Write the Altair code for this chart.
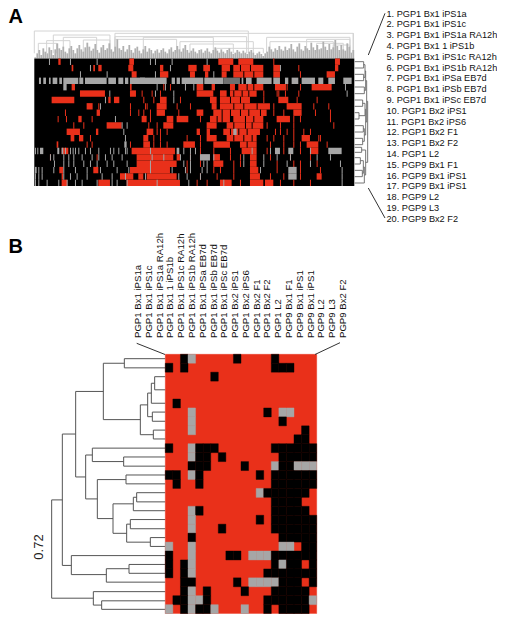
import altair as alt
import pandas as pd

W, H = 489, 606
RED, GREY, BLACK = "#e9301a", "#a6a6a6", "#000000"
FONT = "Liberation Sans"

SAMPLES = ["PGP1 Bx1 iPS1a", "PGP1 Bx1 iPS1c", "PGP1 Bx1 iPS1a RA12h", "PGP1 Bx1 1 iPS1b",
           "PGP1 Bx1 iPS1c RA12h", "PGP1 Bx1 iPS1b RA12h", "PGP1 Bx1 iPSa EB7d", "PGP1 Bx1 iPSb EB7d",
           "PGP1 Bx1 iPSc EB7d", "PGP1 Bx2 iPS1", "PGP1 Bx2 iPS6", "PGP1 Bx2 F1", "PGP1 Bx2 F2",
           "PGP1 L2", "PGP9 Bx1 F1", "PGP9 Bx1 iPS1", "PGP9 Bx1 iPS1", "PGP9 L2", "PGP9 L3", "PGP9 Bx2 F2"]

# Panel B: presence calls, one string per probe, one character per sample
B_ROWS = [
    "RRKGRRRRRKRRRRKRRRRR",
    "KRKRRRRRRRRRRRKKKRRR",
    "RRRRRRKRRRRRRRRRRRRR",
    "RRRRRRRRRRRRRRRRRRRR",
    "RRRRRRRRRRRRRRRRRRRR",
    "RKRRRRRRRRRRRRRRRRRR",
    "RRRGRRRRRRRRRKRGGRRR",
    "RRRGRRRRRRRRRRRKRRRR",
    "RRRGRRRRRRRRRRRRRRKR",
    "RRRRRRRRRRRRRRRRRKKR",
    "KRRGKKKRRRRRRRKKKKKK",
    "RRRGKKRKRRRRRRRKKKKK",
    "RRRKKKRRRRKRRRGKKGGG",
    "KKRGKRRRRRRRKRKKKKKK",
    "RKRRKRRRRRRRRRKKKKKK",
    "RRRRRRRRRRRRGKKKKKKR",
    "RRRRRRRRRRRRRRKKKKRR",
    "RRRGKRRRRRRRRRKKKKKR",
    "RRRGRRRRRRRRKRKKKKKK",
    "RRRGRRRKRRRRRRKKKKKK",
    "RRRKRRRRRRRRRRRKKKKK",
    "GRRGRRRRRRRRRRRGGRKK",
    "KRRGRRRRKKRGGGKKKKKK",
    "KRKGRRRRRRRRRRKGKKRK",
    "KRKGRRRRRRRRRKKKKKKK",
    "RRKKRRRRRKRGGGGKKKRK",
    "RRKGRKRRRRKRRRKKKKKR",
    "RKKGGKRRRRRRRKKKKKKG",
    "GRKGKKGRRRGRRKRKKKKR",
]

# Panel B tree: height, top, bottom, top-child height, bottom-child height
B_TREE = [
    (313, 57, 85, 436, 436), (404, 112, 152, 436, 436), (394, 132, 193, 404, 436), (397, 220, 248, 436, 436),
    (383, 162, 234, 394, 397), (400, 275, 302, 436, 436), (361, 198, 289, 383, 400), (250, 71, 243, 313, 361),
    (311, 357, 385, 436, 436), (217, 330, 371, 436, 311), (318, 412, 439, 436, 436), (350, 466, 494, 436, 436),
    (340, 480, 521, 350, 436), (331, 548, 576, 436, 436), (391, 603, 630, 436, 436), (320, 562, 617, 331, 391),
    (279, 500, 590, 340, 320), (232, 426, 545, 318, 279), (197, 351, 485, 217, 232), (167, 157, 418, 250, 197),
    (327, 685, 712, 436, 436), (259, 698, 739, 327, 436), (154, 658, 716, 436, 259), (127, 287, 688, 167, 154),
    (245, 796, 822, 436, 436), (220, 768, 809, 436, 245), (95, 488, 788, 127, 220),
]

# Panel A right tree
A_SIDE_TREE = [
    (56, 35, 54, 29, 29), (56, 73, 92, 29, 29), (58, 111, 131, 29, 29), (60, 44, 82, 56, 56), (62, 63, 121, 60, 58),
    (53, 150, 169, 29, 29), (42, 188, 207, 29, 29), (55, 227, 246, 29, 29), (53, 265, 284, 29, 29),
    (60, 160, 197, 53, 42), (58, 236, 274, 55, 53), (62, 178, 255, 60, 58), (65, 92, 216, 62, 62),
    (50, 292, 307, 29, 29), (46, 323, 342, 29, 29), (52, 361, 380, 29, 29), (55, 332, 370, 46, 52),
    (58, 351, 399, 55, 29), (62, 300, 375, 50, 58), (68, 154, 337, 65, 62),
]

# Panel A: runs (start, end) or single ticks per row, along the probe axis
A_RED = [
    [(175,182),(388,402),(655,700),(715,760),820,(1005,1020)],
    [(215,220),(280,285),(295,305),(385,400),(480,490),(565,590),(610,630),(665,690),(700,790),(820,840),895,(1005,1015)],
    [(395,410),(480,505),(570,585),(615,625),(665,680),(700,790),(820,840),900,(980,1005)],
    [],
    [(215,225),(390,395),490,510,(590,610),(635,645),(690,705),(715,790),(825,858),860,900,(935,995)],
    [(240,315),(390,408),425,455,480,(590,640),(660,680),(690,770),790,830,835,855,895],
    [(155,223),(325,332),(342,358),430,460,(480,500),540,(630,650),(660,750),790,(835,865),890,950],
    [(260,278),295,390,435,440,(470,500),530,570,(635,650),(660,810),820,(860,905),940,985],
    [195,(290,300),390,415,430,450,(470,495),535,(590,610),(640,800),820,850,(880,905),945,990],
    [173,198,(235,245),275,(425,440),450,(500,520),(530,565),600,(630,690),(700,790),(830,870),880,900,990],
    [220,250,(320,365),445,470,(490,520),(620,650),(680,790),800,840,880,1000],
    [(200,240),(288,295),(440,460),470,480,500,(590,600),(620,630),(670,780),825,840,860,880,910,930],
    [(212,223),(237,250),270,(430,445),460,480,560,600,(620,650),(680,770),800,820,850,880,(905,930),955,960],
    [(170,175),260,275,390,(430,450),460,480,500,(550,585),600,(640,690),(720,770),810,850,880,900,(920,955),980],
    [(185,205),(395,525),600,640,690,(725,770),800,850,900,(930,955)],
    [150,290,(410,520),(530,540),570,600,(640,660),690,720,(750,770),810,870,930],
    [(410,530),560,600,(640,670),700,720,(750,770),830,880,900,950],
    [(178,190),(280,295),(390,510),560,640,660,700,(750,775),830,870,900,960],
    [(185,190),(360,400),(415,430),(440,530),600,650,700,(750,780),810,850,900,(950,965)],
    [(185,202),(295,330),(380,540),590,620,(660,695),720,(750,790),(795,820),840,880,930],
]
A_GREY = [
    [147,210,290,450,465,515,620],
    [270,510,840],
    [240,320,465,640],
    [(117,123),(130,138),(147,152),(158,172),(178,186),(190,235),(238,250),(255,320),(325,348),(355,370),(375,385),(390,435),
     (420,500),(515,525),(530,540),(545,610),(613,670),(725,730),(738,755),(770,815),(820,840),(855,865),(875,895),(905,945),(955,970),(985,1005),(1030,1055)],
    [(190,200),470,495,555,580,1035],
    [328,465,520,1040],
    [315,520],
    [300],
    [],
    [345],
    [365,380],
    [370,(700,710)],
    [375],
    [(373,380)],
    [(105,108),(112,115),(120,130),(172,178),(185,190),195,210,218,225,235,255,270,295,330,340,355,375,380,450,(530,538),550,570,585,755,810,(825,840),(865,880),930,(985,1025)],
    [150,160,190,205,220,245,275,295,315,335,365,455,490,540,570,(600,630),640,730,790,830,870,950,990],
    [162,190,205,220,250,270,290,320,340,380,450,550,570,610,620,730,790,860,930,1020],
    [(105,110),115,125,160,190,225,260,300,350,385,450,515,555,570,605,620,780,(865,890),1025],
    [105,115,125,190,210,230,260,305,335,375,435,535,560,600,(865,890),1025],
    [105,115,140,175,200,225,245,290,335,350,380,470,565,670,1025],
]
A_GAPS = [
    [], [720,750], [730,760], [], [740,760], [700,725,745], [690,720], [700,730,770], [665,690,720,745,780],
    [650,665,735,760], [700,735,755], [690,715,740], [700,730,755], [740], [], [], [], [], [], [],
]
A_DARK_GREY = [(670, 720)]

# Panel A top tree: tooth tops at regular steps along the probe axis
TEETH_START, TEETH_STEP = 106, 6
TEETH = [
    172,160,150,165,145,155,160,142,150,165,148,130,145,150,140,155,160,145,138,150,
    160,145,135,148,155,142,128,140,152,146,132,150,158,142,135,150,145,130,148,155,
    140,118,145,150,138,155,148,135,150,158,145,140,152,160,148,138,155,145,150,160,
    152,148,158,150,145,155,160,148,142,155,150,138,148,155,145,135,150,158,152,145,
    155,160,150,148,158,152,145,155,160,150,142,152,158,148,155,160,150,145,155,162,
    158,150,155,160,152,158,162,155,150,158,165,160,155,162,168,160,155,140,148,155,
    145,150,138,148,152,140,150,145,132,148,155,140,130,148,152,138,145,150,128,142,
    150,135,148,145,125,140,150,132,148,142,120,138,150,135,148,152,130,140,158,150,
]
# start, end, level
A_TOP_BRACKETS = [
    (103,745,93),(345,1060,100),(160,330,105),(190,290,112),(140,210,122),(115,170,130),(250,330,120),
    (345,740,110),(345,530,118),(430,640,112),(540,760,125),(570,700,132),(650,790,145),(800,1050,112),
    (810,1000,125),(920,1050,118),(950,1030,130),(1000,1050,135),(1060,1060,100),
]

# Leader lines: x, y, x2, y2 in page units
LEADERS = pd.DataFrame(
    [(385, 13.3, 368.3, 55), (368.3, 188, 385, 218), (136.7, 343.3, 165, 354.5), (315, 354.5, 340, 342.7)],
    columns=["x", "y", "x2", "y2"],
)
LETTERS = pd.DataFrame([(8.5, 23, "A"), (8.5, 253, "B")], columns=["x", "y", "t"])
B_HEIGHT_LABEL = pd.DataFrame([(39, 547, "0.72")], columns=["x", "y", "t"])

# ---------------------------------------------------------------------------
def page_x(field, **kw):
    return alt.X(field, type="quantitative", axis=None, scale=alt.Scale(domain=[8, 8 + W], range=[0, W], nice=False, zero=False), **kw)

def page_y(field, **kw):
    return alt.Y(field, type="quantitative", axis=None, scale=alt.Scale(domain=[8, 8 + H], range=[0, H], nice=False, zero=False), **kw)

PAL = alt.Scale(domain=["R", "K", "G", "D"], range=[RED, BLACK, GREY, "#707070"])
color = alt.Color("k:N", legend=None, scale=PAL)
stroke = alt.Stroke("k:N", legend=None, scale=PAL)

def runs(rows, kind):
    out = []
    for i, row in enumerate(rows):
        for r in row:
            a, b = r if isinstance(r, tuple) else (r, r + 3)
            out.append(dict(x=a, x2=b, y=i, y2=i + 1, k=kind))
    return out

# ---- Panel A heat map
ax = alt.Scale(domain=[103, 1063], range=[26.3, 346.3], nice=False, zero=False)
ay = alt.Scale(domain=[0, 20], range=[50.5, 178], nice=False, zero=False)
a_base = pd.DataFrame([dict(x=103, x2=1063, y=0, y2=20, k="K")])
a_cells = pd.DataFrame(
    runs(A_RED, "R") + runs(A_GREY, "G") + runs(A_GAPS, "K")
    + [dict(x=a, x2=b, y=3, y2=4, k="D") for a, b in A_DARK_GREY]
)
def a_rect(df):
    return alt.Chart(df).mark_rect().encode(
        x=alt.X("x:Q", axis=None, scale=ax), x2="x2:Q",
        y=alt.Y("y:Q", axis=None, scale=ay), y2="y2:Q", color=color)

# ---- Panel A top tree (drawn in the probe axis and a zoom-unit height)
ty = alt.Scale(domain=[0, 558], range=[-8, 178], nice=False, zero=False)
teeth = pd.DataFrame([dict(x=TEETH_START + i * TEETH_STEP, y=t, y2=175) for i, t in enumerate(TEETH)])
a_teeth = alt.Chart(teeth).mark_rule(color="#b0b0b0", strokeWidth=1.8).encode(
    x=alt.X("x:Q", axis=None, scale=ax), y=alt.Y("y:Q", axis=None, scale=ty), y2="y2:Q")
bseg = []
for a, b, lv in A_TOP_BRACKETS:
    bseg.append(dict(x=a, x2=b, y=lv, y2=lv))
    bseg.append(dict(x=a, x2=a, y=lv, y2=160))
    bseg.append(dict(x=b, x2=b, y=lv, y2=160))
a_brk = alt.Chart(pd.DataFrame(bseg)).mark_rule(color="#d4d4d4", strokeWidth=1).encode(
    x=alt.X("x:Q", axis=None, scale=ax), x2="x2:Q", y=alt.Y("y:Q", axis=None, scale=ty), y2="y2:Q")

def tree_segments(tree):
    seg = []
    for h, t, b, ct, cb in tree:
        seg.append(dict(x=h, x2=h, y=t, y2=b))
        seg.append(dict(x=h, x2=ct, y=t, y2=t))
        seg.append(dict(x=h, x2=cb, y=b, y2=b))
    return pd.DataFrame(seg)

# ---- Panel A side tree
sx = alt.Scale(domain=[0, 3], range=[337, 338], nice=False, zero=False)
sy = alt.Scale(domain=[0, 3], range=[42, 43], nice=False, zero=False)
a_side = alt.Chart(tree_segments(A_SIDE_TREE)).mark_rule(color="#666666", strokeWidth=0.9).encode(
    x=alt.X("x:Q", axis=None, scale=sx), x2="x2:Q", y=alt.Y("y:Q", axis=None, scale=sy), y2="y2:Q")

# ---- Panel A labels
a_text = pd.DataFrame({
    "i": list(range(20)),
    "t": [f"{i + 1}.  {s}" if i < 9 else f"{i + 1}. {s}" for i, s in enumerate(SAMPLES)],
})
a_labels = alt.Chart(a_text).mark_text(align="left", baseline="middle", fontSize=9.2, font=FONT, color="#111111").encode(
    x=alt.value(378.5),
    y=alt.Y("i:Q", axis=None, scale=alt.Scale(domain=[0, 19], range=[5.5, 210.7], nice=False, zero=False)),
    text="t:N")

# ---- Panel B heat map
bx = alt.Scale(domain=[0, 20], range=[157.3, 308.7], nice=False, zero=False)
by = alt.Scale(domain=[0, 29], range=[346.3, 605.6], nice=False, zero=False)
b_base = pd.DataFrame([dict(x=0, x2=20, y=0, y2=29, k="R")])
b_cells = pd.DataFrame([
    dict(x=c, x2=c + 1, y=r, y2=r + 1, k=v)
    for r, row in enumerate(B_ROWS) for c, v in enumerate(row) if v != "R"
])
def b_rect(df):
    return alt.Chart(df).mark_rect(strokeWidth=0.4).encode(
        x=alt.X("x:Q", axis=None, scale=bx), x2="x2:Q",
        y=alt.Y("y:Q", axis=None, scale=by), y2="y2:Q", color=color, stroke=stroke)

# ---- Panel B tree: zoomed units, origin at (20, 340) of the page, 3 units per pixel
tx = alt.Scale(domain=[0, 3], range=[12, 13], nice=False, zero=False)
tyb = alt.Scale(domain=[0, 3], range=[332, 332.983], nice=False, zero=False)
b_tree = alt.Chart(tree_segments(B_TREE)).mark_rule(color="#555555", strokeWidth=1).encode(
    x=alt.X("x:Q", axis=None, scale=tx), x2="x2:Q", y=alt.Y("y:Q", axis=None, scale=tyb), y2="y2:Q")

b_text = pd.DataFrame({"i": list(range(20)), "t": SAMPLES})
b_labels = alt.Chart(b_text).mark_text(align="left", baseline="middle", angle=270, fontSize=9.6, font=FONT, color="#111111").encode(
    x=alt.X("i:Q", axis=None, scale=alt.Scale(domain=[0, 19], range=[130, 335], nice=False, zero=False)),
    y=alt.value(330),
    text="t:N")

leaders = alt.Chart(LEADERS).mark_rule(color="#333333", strokeWidth=1).encode(
    x=page_x("x"), x2="x2:Q", y=page_y("y"), y2="y2:Q")
letters = alt.Chart(LETTERS).mark_text(align="left", baseline="alphabetic", fontSize=20, fontWeight="bold", font=FONT, color="#000000").encode(
    x=page_x("x"), y=page_y("y"), text="t:N")
height_label = alt.Chart(B_HEIGHT_LABEL).mark_text(align="center", baseline="middle", angle=270, fontSize=13, font=FONT, color="#222222").encode(
    x=page_x("x"), y=page_y("y"), text="t:N")

chart = alt.layer(
    a_brk, a_teeth, a_rect(a_base), a_rect(a_cells), a_side, a_labels,
    b_tree, b_rect(b_base), b_rect(b_cells), b_labels, leaders, letters, height_label,
).resolve_scale(x="independent", y="independent").properties(
    width=W, height=H, padding=0, autosize=alt.AutoSizeParams(type="none"),
).configure_view(stroke=None)

chart.save("out.html", embed_options={"renderer": "svg", "actions": False})
